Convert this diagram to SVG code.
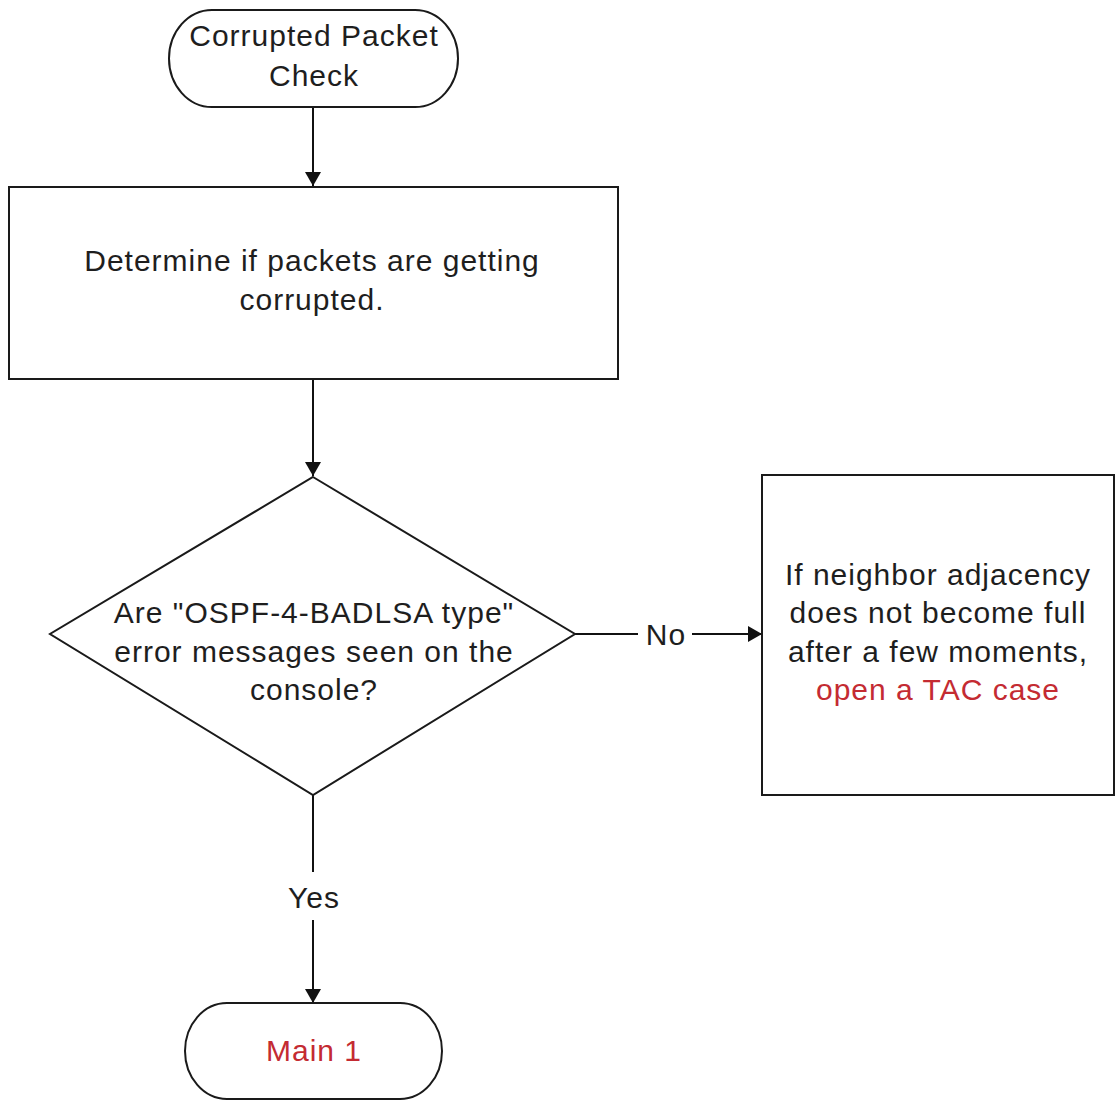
<svg xmlns="http://www.w3.org/2000/svg" width="1117" height="1111" viewBox="0 0 1117 1111">
<style>
.shape{fill:#ffffff;stroke:#1a1a1a;stroke-width:2}
.edge{fill:none;stroke:#111111;stroke-width:2}
.t{font-family:"Liberation Sans",Arial,sans-serif;font-size:30px;letter-spacing:1px;fill:#1e1e1e;text-anchor:middle}
.red{fill:#c42b32}
</style>
<defs>
<marker id="arr" viewBox="0 0 14 16" refX="14" refY="8" markerWidth="14" markerHeight="16" markerUnits="userSpaceOnUse" orient="auto">
<path d="M0,0 L14,8 L0,16 Z" fill="#111111"/>
</marker>
</defs>
<rect width="1117" height="1111" fill="#ffffff"/>
<g id="connectors">
<line class="edge" x1="313" y1="107" x2="313" y2="186" marker-end="url(#arr)"/>
<line class="edge" x1="313" y1="379" x2="313" y2="476" marker-end="url(#arr)"/>
<line class="edge" x1="575" y1="634" x2="638" y2="634"/>
<line class="edge" x1="692" y1="634" x2="762" y2="634" marker-end="url(#arr)"/>
<line class="edge" x1="313" y1="795" x2="313" y2="872"/>
<line class="edge" x1="313" y1="920" x2="313" y2="1003" marker-end="url(#arr)"/>
<text class="t" x="666" y="645">No</text>
<text class="t" x="314" y="908">Yes</text>
</g>
<g id="start">
<path class="shape" d="M212,10 H415 A43,48.5 0 0 1 415,107 H212 A43,48.5 0 0 1 212,10 Z"/>
<text class="t" x="314" y="46">Corrupted Packet</text>
<text class="t" x="314" y="86">Check</text>
</g>
<g id="determine">
<rect class="shape" x="9" y="187" width="609" height="192"/>
<text class="t" x="312" y="271">Determine if packets are getting</text>
<text class="t" x="312" y="310">corrupted.</text>
</g>
<g id="decision">
<polygon class="shape" points="313,477 575,634 313,795 50,634"/>
<text class="t" x="314" y="623">Are "OSPF-4-BADLSA type"</text>
<text class="t" x="314" y="662">error messages seen on the</text>
<text class="t" x="314" y="700">console?</text>
</g>
<g id="tac">
<rect class="shape" x="762" y="475" width="352" height="320"/>
<text class="t" x="938" y="585">If neighbor adjacency</text>
<text class="t" x="938" y="623">does not become full</text>
<text class="t" x="938" y="662">after a few moments,</text>
<text class="t red" x="938" y="700">open a TAC case</text>
</g>
<g id="main1">
<path class="shape" d="M227,1003 H400 A42,48 0 0 1 400,1099 H227 A42,48 0 0 1 227,1003 Z"/>
<text class="t red" x="314" y="1061">Main 1</text>
</g>
</svg>
